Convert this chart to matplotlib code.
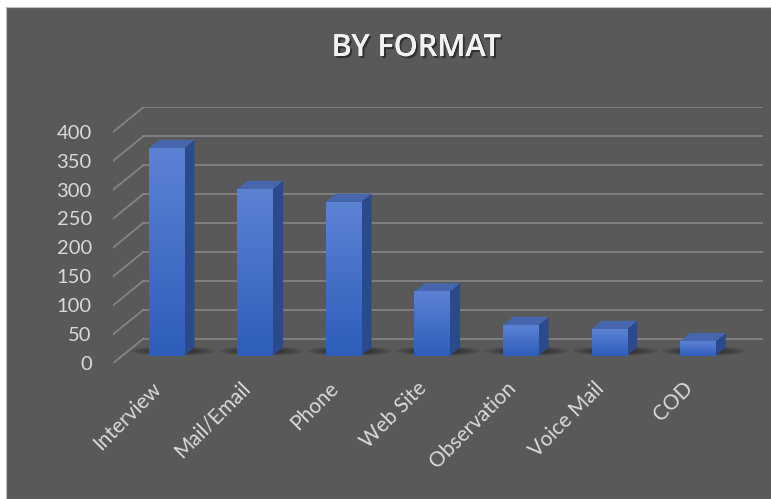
import numpy as np
import matplotlib.pyplot as plt
from matplotlib.patches import Polygon, Rectangle, Ellipse
from matplotlib.colors import LinearSegmentedColormap
from matplotlib.transforms import ScaledTranslation
import matplotlib.patheffects as pe

# datos
categories = ["Interview", "Mail/Email", "Phone", "Web Site", "Observation", "Voice Mail", "COD"]
values = [359, 288, 266, 111, 53, 46, 25]
y_ticks = [0, 50, 100, 150, 200, 250, 300, 350, 400]

plt.rcParams['font.family'] = ['Lato', 'DejaVu Sans']

# profundidad del "3D" falso (en unidades de datos)
depth_x = 0.339
depth_y = 42.2
bar_front = 0.30   # posicion de la cara frontal de la barra en profundidad
bar_depth = 0.34
bar_w = 0.40

fig = plt.figure(figsize=(7.71, 4.99), dpi=100, facecolor='white')
fig.add_artist(Rectangle((6 / 771, 0), 1, (499 - 7) / 499, transform=fig.transFigure,
                         facecolor='#595959', edgecolor='#BDBDBD', lw=0.8, zorder=0))

ax = fig.add_axes([0.147, 0.2725, 0.8427, 0.5124])
ax.set_facecolor('none')

# lineas de la pared del fondo + diagonales del suelo
grid_col = '#848484'
for v in y_ticks:
    ax.plot([-0.5 + depth_x, 6.5 + depth_x], [v + depth_y, v + depth_y], color=grid_col, lw=1.3, zorder=1)
    ax.plot([-0.5, -0.5 + depth_x], [v, v + depth_y], color=grid_col, lw=1.3, zorder=1)

front_cmap = LinearSegmentedColormap.from_list('front', ['#2E5DBB', '#5C82D4'])
grad = np.linspace(0, 1, 100).reshape(-1, 1)

for i, v in enumerate(values):
    xl = i - bar_w / 2 + bar_front * depth_x
    xr = xl + bar_w
    base = bar_front * depth_y
    top = base + v
    ddx = bar_depth * depth_x
    ddy = bar_depth * depth_y

    # sombra difusa en el suelo
    for k in range(7):
        s = 1 - k * 0.11
        ax.add_patch(Ellipse((i + 0.17, base + 8), width=0.95 * s, height=16 * s,
                             facecolor='black', alpha=0.09, lw=0, zorder=2))

    ax.imshow(grad, extent=(xl, xr, base, top), origin='lower', aspect='auto',
              cmap=front_cmap, zorder=4, interpolation='bilinear')
    ax.add_patch(Polygon([(xr, base), (xr, top), (xr + ddx, top + ddy), (xr + ddx, base + ddy)],
                         closed=True, facecolor='#2B4A8C', lw=0, zorder=3))
    ax.add_patch(Polygon([(xl, top), (xr, top), (xr + ddx, top + ddy), (xl + ddx, top + ddy)],
                         closed=True, facecolor='#4666AE', lw=0, zorder=3))

ax.set_xlim(-0.5, 6.5 + depth_x)
ax.set_ylim(0, 400 + depth_y)
for sp in ax.spines.values():
    sp.set_visible(False)

ax.set_yticks(y_ticks)
ax.tick_params(axis='y', length=0, pad=15.5, labelsize=14.5, labelcolor='#D9D9D9')
ax.set_xticks(range(len(categories)))
ax.set_xticklabels(categories, rotation=45, ha='right', va='center', rotation_mode='anchor')
ax.tick_params(axis='x', length=0, pad=16, labelsize=15, labelcolor='#D9D9D9')
offset = ScaledTranslation(0.5 / 72, 0, fig.dpi_scale_trans)
for lab in ax.get_xticklabels():
    lab.set_transform(lab.get_transform() + offset)

fig.text(416 / 771, 1 - 48 / 499, "BY FORMAT", fontsize=22, fontweight='semibold', color='#F2F2F2',
         ha='center', va='center', family=['Open Sans', 'DejaVu Sans'],
         path_effects=[pe.withSimplePatchShadow(offset=(1.5, -1.5), shadow_rgbFace='black', alpha=0.45),
                       pe.Normal()])

fig.savefig('out.png', dpi=100, facecolor=fig.get_facecolor())
